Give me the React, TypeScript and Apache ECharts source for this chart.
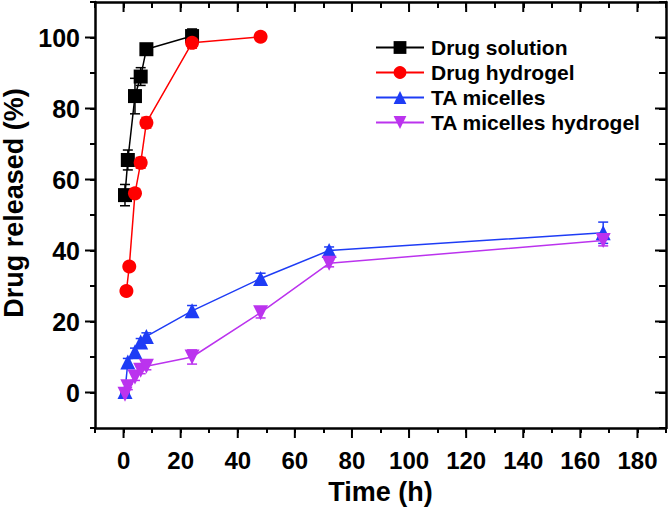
import React, { useEffect, useRef } from "react";
import * as echarts from "echarts";

// Time (h) and drug released (%), with error bars
const solTime = [0.5, 1.5, 4, 6, 8, 24];
const solVal = [55.6, 65.5, 83.5, 89, 96.7, 100.4];
const solErr = [3, 2.8, 5, 2.5, 1, 2];

const hydTime = [1, 2, 4, 6, 8, 24, 48];
const hydVal = [28.6, 35.5, 56.1, 64.7, 76, 98.5, 100.2];
const hydErr = [1, 1, 1, 1.5, 1.5, 1.5, 1];

const micTime = [0.5, 1.5, 4, 6, 8, 24, 48, 72, 168];
const micVal = [0.3, 8.6, 11.5, 14.2, 15.8, 23, 32.1, 40, 45];
const micErr = [0.5, 1, 1, 1, 1, 1.5, 1.5, 1, 3];

const mhTime = [0.5, 1.5, 4, 6, 8, 24, 48, 72, 168];
const mhVal = [-0.5, 1.6, 4.4, 6.3, 7.4, 10, 22.5, 36.4, 42.8];
const mhErr = [0.5, 0.8, 1, 1, 1, 2, 1.5, 1, 1.5];

const names = ["Drug solution", "Drug hydrogel", "TA micelles", "TA micelles hydrogel"];
const colors = ["#000000", "#ff0000", "#1e3cf5", "#bb33ee"];

const X_MIN = -10, X_MAX = 190, Y_MIN = -10, Y_MAX = 110;
const xMajor = [0, 20, 40, 60, 80, 100, 120, 140, 160, 180];
const yMajor = [0, 20, 40, 60, 80, 100];

const FONT = "'Liberation Sans', Arial, Helvetica, sans-serif";

function zip(t: number[], v: number[]) {
  return t.map((x, i) => [x, v[i]]);
}
function zip3(t: number[], v: number[], e: number[]) {
  return t.map((x, i) => [x, v[i], e[i]]);
}

export default function App() {
  const ref = useRef<HTMLDivElement>(null);
  useEffect(() => {
    document.body.style.margin = "0";
    const chart = echarts.init(ref.current!, null, { renderer: "svg" });

    const errSeries = (name: string, data: number[][], color: string) => ({
      type: "custom",
      name,
      silent: true,
      z: 1,
      data,
      clip: false,
      renderItem: (params: any, api: any) => {
        const x = api.value(0), y = api.value(1), e = api.value(2);
        const top = api.coord([x, y + e]);
        const bot = api.coord([x, y - e]);
        const w = 5;
        return {
          type: "group",
          children: [
            { type: "line", shape: { x1: top[0], y1: top[1], x2: bot[0], y2: bot[1] }, style: { stroke: color, lineWidth: 1.5 } },
            { type: "line", shape: { x1: top[0] - w, y1: top[1], x2: top[0] + w, y2: top[1] }, style: { stroke: color, lineWidth: 1.5 } },
            { type: "line", shape: { x1: bot[0] - w, y1: bot[1], x2: bot[0] + w, y2: bot[1] }, style: { stroke: color, lineWidth: 1.5 } },
          ],
        };
      },
    });

    const lineSeries = (i: number, data: number[][], symbol: string, size: number, rotate = 0) => ({
      type: "line",
      name: names[i],
      data,
      symbol,
      symbolSize: size,
      symbolRotate: rotate,
      showAllSymbol: true,
      z: 3,
      lineStyle: { color: colors[i], width: 1.5 },
      itemStyle: { color: colors[i], borderWidth: 0 },
      emphasis: { disabled: true },
    });

    const tickLine = (x1: number, y1: number, x2: number, y2: number) => ({
      type: "line",
      shape: { x1, y1, x2, y2 },
      style: { stroke: "#000", lineWidth: 2 },
    });

    const yTicks = {
      type: "custom",
      name: "yticks",
      silent: true,
      clip: false,
      z: 5,
      data: yMajor.map((v) => [X_MIN, v]),
      renderItem: (params: any, api: any) => {
        const v = api.value(1);
        const l = api.coord([X_MIN, v]);
        const r = api.coord([X_MAX, v]);
        return {
          type: "group",
          children: [tickLine(l[0] - 10, l[1], l[0], l[1]), tickLine(r[0] - 11, r[1], r[0], r[1])],
        };
      },
    };
    const xTicks = {
      type: "custom",
      name: "xticks",
      silent: true,
      clip: false,
      z: 5,
      data: xMajor.map((v) => [v, Y_MIN]),
      renderItem: (params: any, api: any) => {
        const v = api.value(0);
        const b = api.coord([v, Y_MIN]);
        const t = api.coord([v, Y_MAX]);
        return {
          type: "group",
          children: [tickLine(b[0], b[1], b[0], b[1] + 10), tickLine(t[0], t[1], t[0], t[1] + 10)],
        };
      },
    };

    const axisLine = { show: true, onZero: false, lineStyle: { color: "#000", width: 2.5 } };

    chart.setOption({
      animation: false,
      backgroundColor: "#ffffff",
      grid: { left: 95, right: 2, top: 2, bottom: 81, containLabel: false, outerBoundsMode: "none" },
      legend: {
        data: names,
        orient: "vertical",
        left: 375,
        top: 37,
        padding: 0,
        itemWidth: 48,
        itemHeight: 16,
        itemGap: 4,
        textStyle: { fontFamily: FONT, fontWeight: "bold", fontSize: 21, color: "#000", padding: [0, 0, 0, 2] },
        selectedMode: false,
      },
      xAxis: [
        {
          type: "value",
          position: "bottom",
          min: X_MIN,
          max: X_MAX,
          interval: 10,
          axisLine,
          axisTick: { show: true, inside: false, length: 5, lineStyle: { color: "#000", width: 2 } },
          axisLabel: {
            margin: 20,
            fontFamily: FONT,
            fontWeight: "bold",
            fontSize: 24,
            color: "#000",
            showMinLabel: true,
            showMaxLabel: true,
            formatter: (v: number) => (v % 20 === 0 && v >= 0 && v <= 180 ? String(v) : ""),
          },
          splitLine: { show: false },
          name: "Time (h)",
          nameLocation: "middle",
          nameGap: 50,
          nameTextStyle: { fontFamily: FONT, fontWeight: "bold", fontSize: 27, color: "#000" },
        },
        {
          type: "value",
          position: "top",
          min: X_MIN,
          max: X_MAX,
          interval: 10,
          axisLine,
          axisTick: { show: true, inside: true, length: 6, lineStyle: { color: "#000", width: 2 } },
          axisLabel: { show: false },
          splitLine: { show: false },
        },
      ],
      yAxis: [
        {
          type: "value",
          position: "left",
          min: Y_MIN,
          max: Y_MAX,
          interval: 10,
          axisLine,
          axisTick: { show: true, inside: false, length: 5, lineStyle: { color: "#000", width: 2 } },
          axisLabel: {
            margin: 15,
            fontFamily: FONT,
            fontWeight: "bold",
            fontSize: 25,
            color: "#000",
            formatter: (v: number) => (v % 20 === 0 && v >= 0 && v <= 100 ? String(v) : ""),
          },
          splitLine: { show: false },
          name: "Drug released (%)",
          nameLocation: "middle",
          nameGap: 60,
          nameTextStyle: { fontFamily: FONT, fontWeight: "bold", fontSize: 27, color: "#000", padding: [0, 0, 0, 24] },
        },
        {
          type: "value",
          position: "right",
          min: Y_MIN,
          max: Y_MAX,
          interval: 10,
          axisLine,
          axisTick: { show: true, inside: true, length: 7, lineStyle: { color: "#000", width: 2 } },
          axisLabel: { show: false },
          splitLine: { show: false },
        },
      ],
      series: [
        errSeries("err0", zip3(solTime, solVal, solErr), colors[0]),
        errSeries("err1", zip3(hydTime, hydVal, hydErr), colors[1]),
        errSeries("err2", zip3(micTime, micVal, micErr), colors[2]),
        errSeries("err3", zip3(mhTime, mhVal, mhErr), colors[3]),
        lineSeries(0, zip(solTime, solVal), "rect", 14),
        lineSeries(1, zip(hydTime, hydVal), "circle", 14),
        lineSeries(2, zip(micTime, micVal), "triangle", 15),
        lineSeries(3, zip(mhTime, mhVal), "triangle", 15, 180),
        yTicks,
        xTicks,
      ],
    });
    return () => chart.dispose();
  }, []);
  return <div ref={ref} style={{ width: 668, height: 509 }} />;
}
